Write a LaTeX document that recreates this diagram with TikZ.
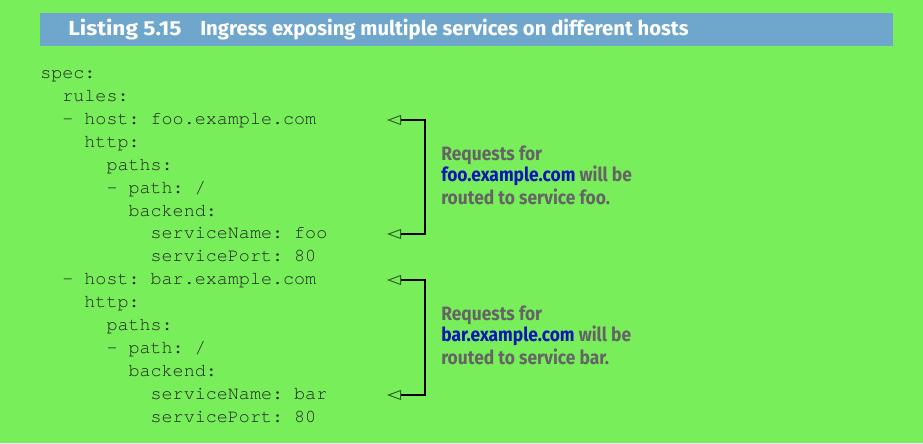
\documentclass[tikz,border=0pt]{standalone}
\usepackage{fontspec}
\usetikzlibrary{arrows.meta}
\newfontfamily\codefont{TeX Gyre Cursor}
\newfontfamily\titlefont{Fira Sans}
\newfontfamily\listfont[FakeStretch=1.12]{Fira Sans}
\newfontfamily\notefont[FakeStretch=0.9]{Fira Sans}
\definecolor{bggreen}{RGB}{120,238,90}
\definecolor{barblue}{RGB}{111,167,204}
\definecolor{notegray}{RGB}{100,100,100}
\definecolor{noteblue}{RGB}{10,20,180}
\definecolor{codeink}{RGB}{34,34,34}
\definecolor{tipcol}{RGB}{55,95,45}
\tikzset{
  code/.style={anchor=base west, inner sep=0pt, text=codeink,
    font=\codefont\frenchspacing\fontsize{13.8pt}{16pt}\selectfont},
  ttl/.style={anchor=base west, inner sep=0pt, text=white,
    font=\titlefont\bfseries\fontsize{15.2pt}{18pt}\selectfont},
  note/.style={anchor=base west, inner sep=0pt, text=notegray,
    font=\notefont\bfseries\fontsize{14.5pt}{17pt}\selectfont},
  bracket/.style={draw=black, line width=0.9pt,
    {Triangle[open, length=10.5pt, width=7.5pt, color=tipcol, line width=0.75pt]}-{Triangle[open, length=10.5pt, width=7.5pt, color=tipcol, line width=0.75pt]}}
}
\begin{document}
\begin{tikzpicture}[x=0.75pt, y=-0.75pt]
\fill[bggreen] (0,0) rectangle (923,443);
\useasboundingbox (0,0) rectangle (923,443);
% title bar
\fill[barblue] (40,13) rectangle (893,46);
\node[ttl, font=\listfont\bfseries\fontsize{15.2pt}{18pt}\selectfont] (lst) at (68,35) {Listing 5.15};
\node[ttl] (ttltext) at (200,35) {Ingress exposing multiple services on different hosts};
% code lines
\def\ch{11.04}
\node[code] (l0) at (40,78.3) {spec:};
\node[code] (l1) at (40+2*\ch,101.25) {rules:};
\node[code] (l2) at (40+2*\ch,124.2) {- host: foo.example.com};
\node[code] (l3) at (40+4*\ch,147.15) {http:};
\node[code] (l4) at (40+6*\ch,170.1) {paths:};
\node[code] (l5) at (40+6*\ch,193.05) {- path: /};
\node[code] (l6) at (40+8*\ch,216) {backend:};
\node[code] (l7) at (40+10*\ch,238.95) {serviceName: foo};
\node[code] (l8) at (40+10*\ch,261.9) {servicePort: 80};
\node[code] (l9) at (40+2*\ch,284.85) {- host: bar.example.com};
\node[code] (l10) at (40+4*\ch,307.8) {http:};
\node[code] (l11) at (40+6*\ch,330.75) {paths:};
\node[code] (l12) at (40+6*\ch,353.7) {- path: /};
\node[code] (l13) at (40+8*\ch,376.65) {backend:};
\node[code] (l14) at (40+10*\ch,399.6) {serviceName: bar};
\node[code] (l15) at (40+10*\ch,422.55) {servicePort: 80};
% bracket coordinates
\coordinate (a1) at (387,120);
\coordinate (c1) at (425,120);
\coordinate (c2) at (425,234);
\coordinate (a2) at (387,234);
\coordinate (a3) at (387,280);
\coordinate (c3) at (425,280);
\coordinate (c4) at (425,395);
\coordinate (a4) at (387,395);
\draw[bracket] (a1) -- (c1) -- (c2) -- (a2);
\draw[bracket] (a3) -- (c3) -- (c4) -- (a4);
% notes
\node[note] (n1a) at (441,160) {Requests for};
\node[note] (n1b) at (441,181.7) {\textcolor{noteblue}{foo.example.com} will be};
\node[note] (n1c) at (441,204) {routed to service foo.};
\node[note] (n2a) at (441,320) {Requests for};
\node[note] (n2b) at (441,341.7) {\textcolor{noteblue}{bar.example.com} will be};
\node[note] (n2c) at (441,364) {routed to service bar.};
\end{tikzpicture}
\end{document}
